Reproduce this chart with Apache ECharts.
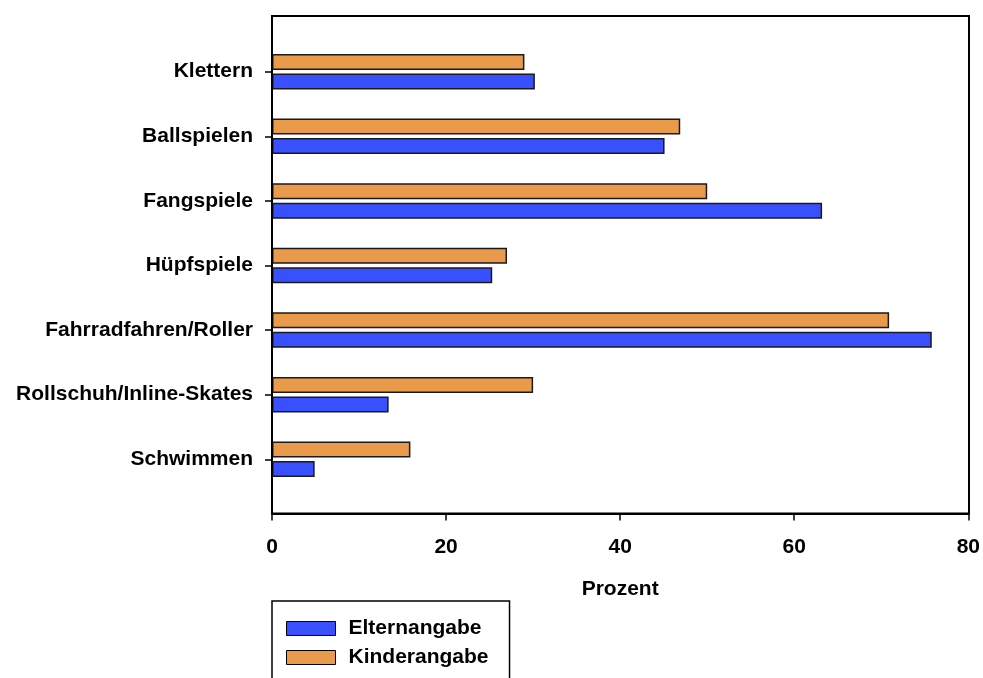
<!DOCTYPE html>
<html><head><meta charset="utf-8">
<script src="https://cdn.jsdelivr.net/npm/echarts@6/dist/echarts.min.js"></script>
<style>html,body{margin:0;padding:0;background:#fff}#c{width:983px;height:678px}</style>
</head><body><div id="c"></div>
<script>
const categories = ["Klettern","Ballspielen","Fangspiele","Hüpfspiele","Fahrradfahren/Roller","Rollschuh/Inline-Skates","Schwimmen"];
const elternangabe = [30.2, 45.1, 63.2, 25.3, 75.8, 13.4, 4.9];
const kinderangabe = [29.0, 46.9, 50.0, 27.0, 70.9, 30.0, 15.9];
const xTicks = [0, 20, 40, 60, 80];

const FONT = 'Liberation Sans';
const chart = echarts.init(document.getElementById('c'), null, {renderer:'canvas'});
chart.setOption({
  animation: false,
  backgroundColor: '#fff',
  grid: [
    {left: 272, top: 39.4, width: 697, height: 452.2, show: false},
    {left: 272, top: 16, width: 697, height: 497.5, show: true, borderColor: '#000', borderWidth: 2, backgroundColor: 'transparent', z: 5}
  ],
  xAxis: [
    {type: 'value', gridIndex: 0, min: xTicks[0], max: xTicks[xTicks.length-1], interval: 20, offset: 22,
     axisLine: {show: true, lineStyle: {color: '#000', width: 2}},
     axisTick: {show: true, length: 7, lineStyle: {color: '#000', width: 1.5}},
     axisLabel: {margin: 23, color: '#000', fontFamily: FONT, fontWeight: 'bold', fontSize: 21},
     splitLine: {show: false},
     name: 'Prozent', nameLocation: 'middle', nameGap: 65,
     nameTextStyle: {color: '#000', fontFamily: FONT, fontWeight: 'bold', fontSize: 21}},
    {type: 'value', gridIndex: 1, show: false, min: 0, max: 1}
  ],
  yAxis: [
    {type: 'category', gridIndex: 0, data: categories, inverse: true,
     axisLine: {show: false},
     axisTick: {show: true, alignWithLabel: true, length: 7, lineStyle: {color: '#000', width: 1.5}},
     axisLabel: {show: true, margin: 19, color: '#000', fontFamily: FONT, fontWeight: 'bold', fontSize: 21}},
    {type: 'value', gridIndex: 1, show: false, min: 0, max: 1}
  ],
  legend: {
    orient: 'vertical', left: 272, top: 601, height: 300,
    data: ['Elternangabe', 'Kinderangabe'],
    itemWidth: 49, itemHeight: 14, itemGap: 8,
    padding: [17, 21, 40, 14],
    borderColor: '#000', borderWidth: 1.5,
    icon: 'rect',
    itemStyle: {borderColor: '#000', borderWidth: 1},
    textStyle: {color: '#000', fontFamily: FONT, fontWeight: 'bold', fontSize: 21, padding: [0,0,0,8]}
  },
  series: [
    {name: 'Kinderangabe', type: 'bar', xAxisIndex: 0, yAxisIndex: 0, data: kinderangabe,
     barWidth: 16, barGap: '22%',
     itemStyle: {color: '#E99A4A', borderColor: '#1a1a1a', borderWidth: 1.5}},
    {name: 'Elternangabe', type: 'bar', xAxisIndex: 0, yAxisIndex: 0, data: elternangabe,
     barWidth: 16, barGap: '22%',
     itemStyle: {color: '#3850FF', borderColor: '#1a1a1a', borderWidth: 1.5}}
  ]
});
</script></body></html>
